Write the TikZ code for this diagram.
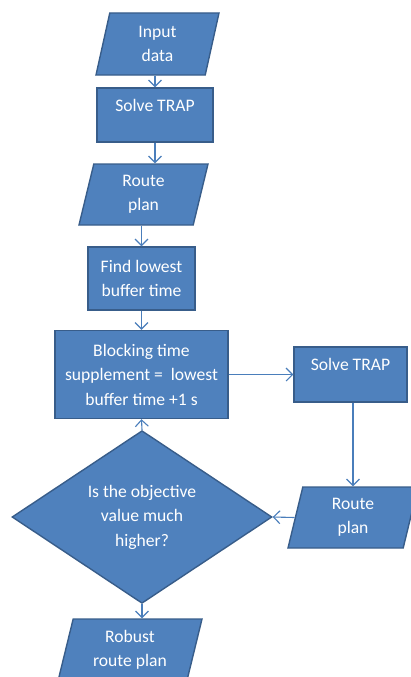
\documentclass[tikz,border=0pt]{standalone}
\usepackage{fontspec}
\setmainfont{Carlito}
\usetikzlibrary{shapes.geometric,arrows.meta}
\definecolor{boxfill}{HTML}{4F81BD}
\definecolor{boxline}{HTML}{385D8A}
\definecolor{flowline}{HTML}{4A7EBB}

\begin{document}
\begin{tikzpicture}[x=1pt, y=-1pt,
	every node/.style={text=white, font=\fontsize{17.6}{24.5}\selectfont, align=center},
	proc/.style={rectangle, draw=boxline, fill=boxfill, line width=1.4pt, inner sep=0pt},
	io/.style={trapezium, trapezium left angle=69, trapezium right angle=111, trapezium stretches body, draw=boxline, fill=boxfill, line width=1.4pt, inner sep=0pt},
	decision/.style={diamond, draw=boxline, fill=boxfill, line width=1.4pt, inner sep=0pt},
	flow/.style={draw=flowline, line width=1.1pt, -{Straight Barb[length=6.5pt, width=13pt]}}]
	\useasboundingbox (0,0) rectangle (410,677);
	%\draw (0,0) grid[step=50] (410,677);
	\node[io, minimum width=123pt, minimum height=62pt] (in) at (157.5,44) {Input\\data};
	\node[proc, minimum width=116pt, minimum height=54pt] (solve1) at (155,115) {Solve TRAP\\[-5pt]\mbox{}};
	\node[io, minimum width=129pt, minimum height=61pt] (rp1) at (143.5,194.5) {Route\\plan};
	\node[proc, minimum width=107pt, minimum height=63pt] (find) at (141.5,278.5) {Find lowest\\buffer time};
	\node[proc, minimum width=173pt, minimum height=88pt] (block) at (141.5,374.5) {Blocking time\\supplement =~ lowest\\buffer time +1 s};
	\node[proc, minimum width=113pt, minimum height=55pt] (solve2) at (350.5,374.5) {Solve TRAP\\[-5pt]\mbox{}};
	\node[io, minimum width=130pt, minimum height=61pt] (rp2) at (353,517.5) {Route\\plan};
	\node[decision, minimum width=260pt, minimum height=158pt] (dec) at (142,517) {Is the objective\\value much\\higher?};
	\node[io, minimum width=144pt, minimum height=62pt] (robust) at (130,650) {Robust\\route plan};

	\draw[flow] (solve1.north |- in.south) -- (solve1.north);
	\draw[flow] (solve1.south) -- (solve1.south |- rp1.north);
	\draw[flow] (find.north |- rp1.south) -- (find.north);
	\draw[flow] (find.south) -- (block.north);
	\draw[flow] (block.east) -- (solve2.west);
	\draw[flow] (rp2.north |- solve2.south) -- (rp2.north);
	\draw[flow] (rp2.west) -- (dec.east);
	\draw[flow] (dec.north) -- (block.south);
	\draw[flow] (dec.south) -- (dec.south |- robust.north);
\end{tikzpicture}
\end{document}
